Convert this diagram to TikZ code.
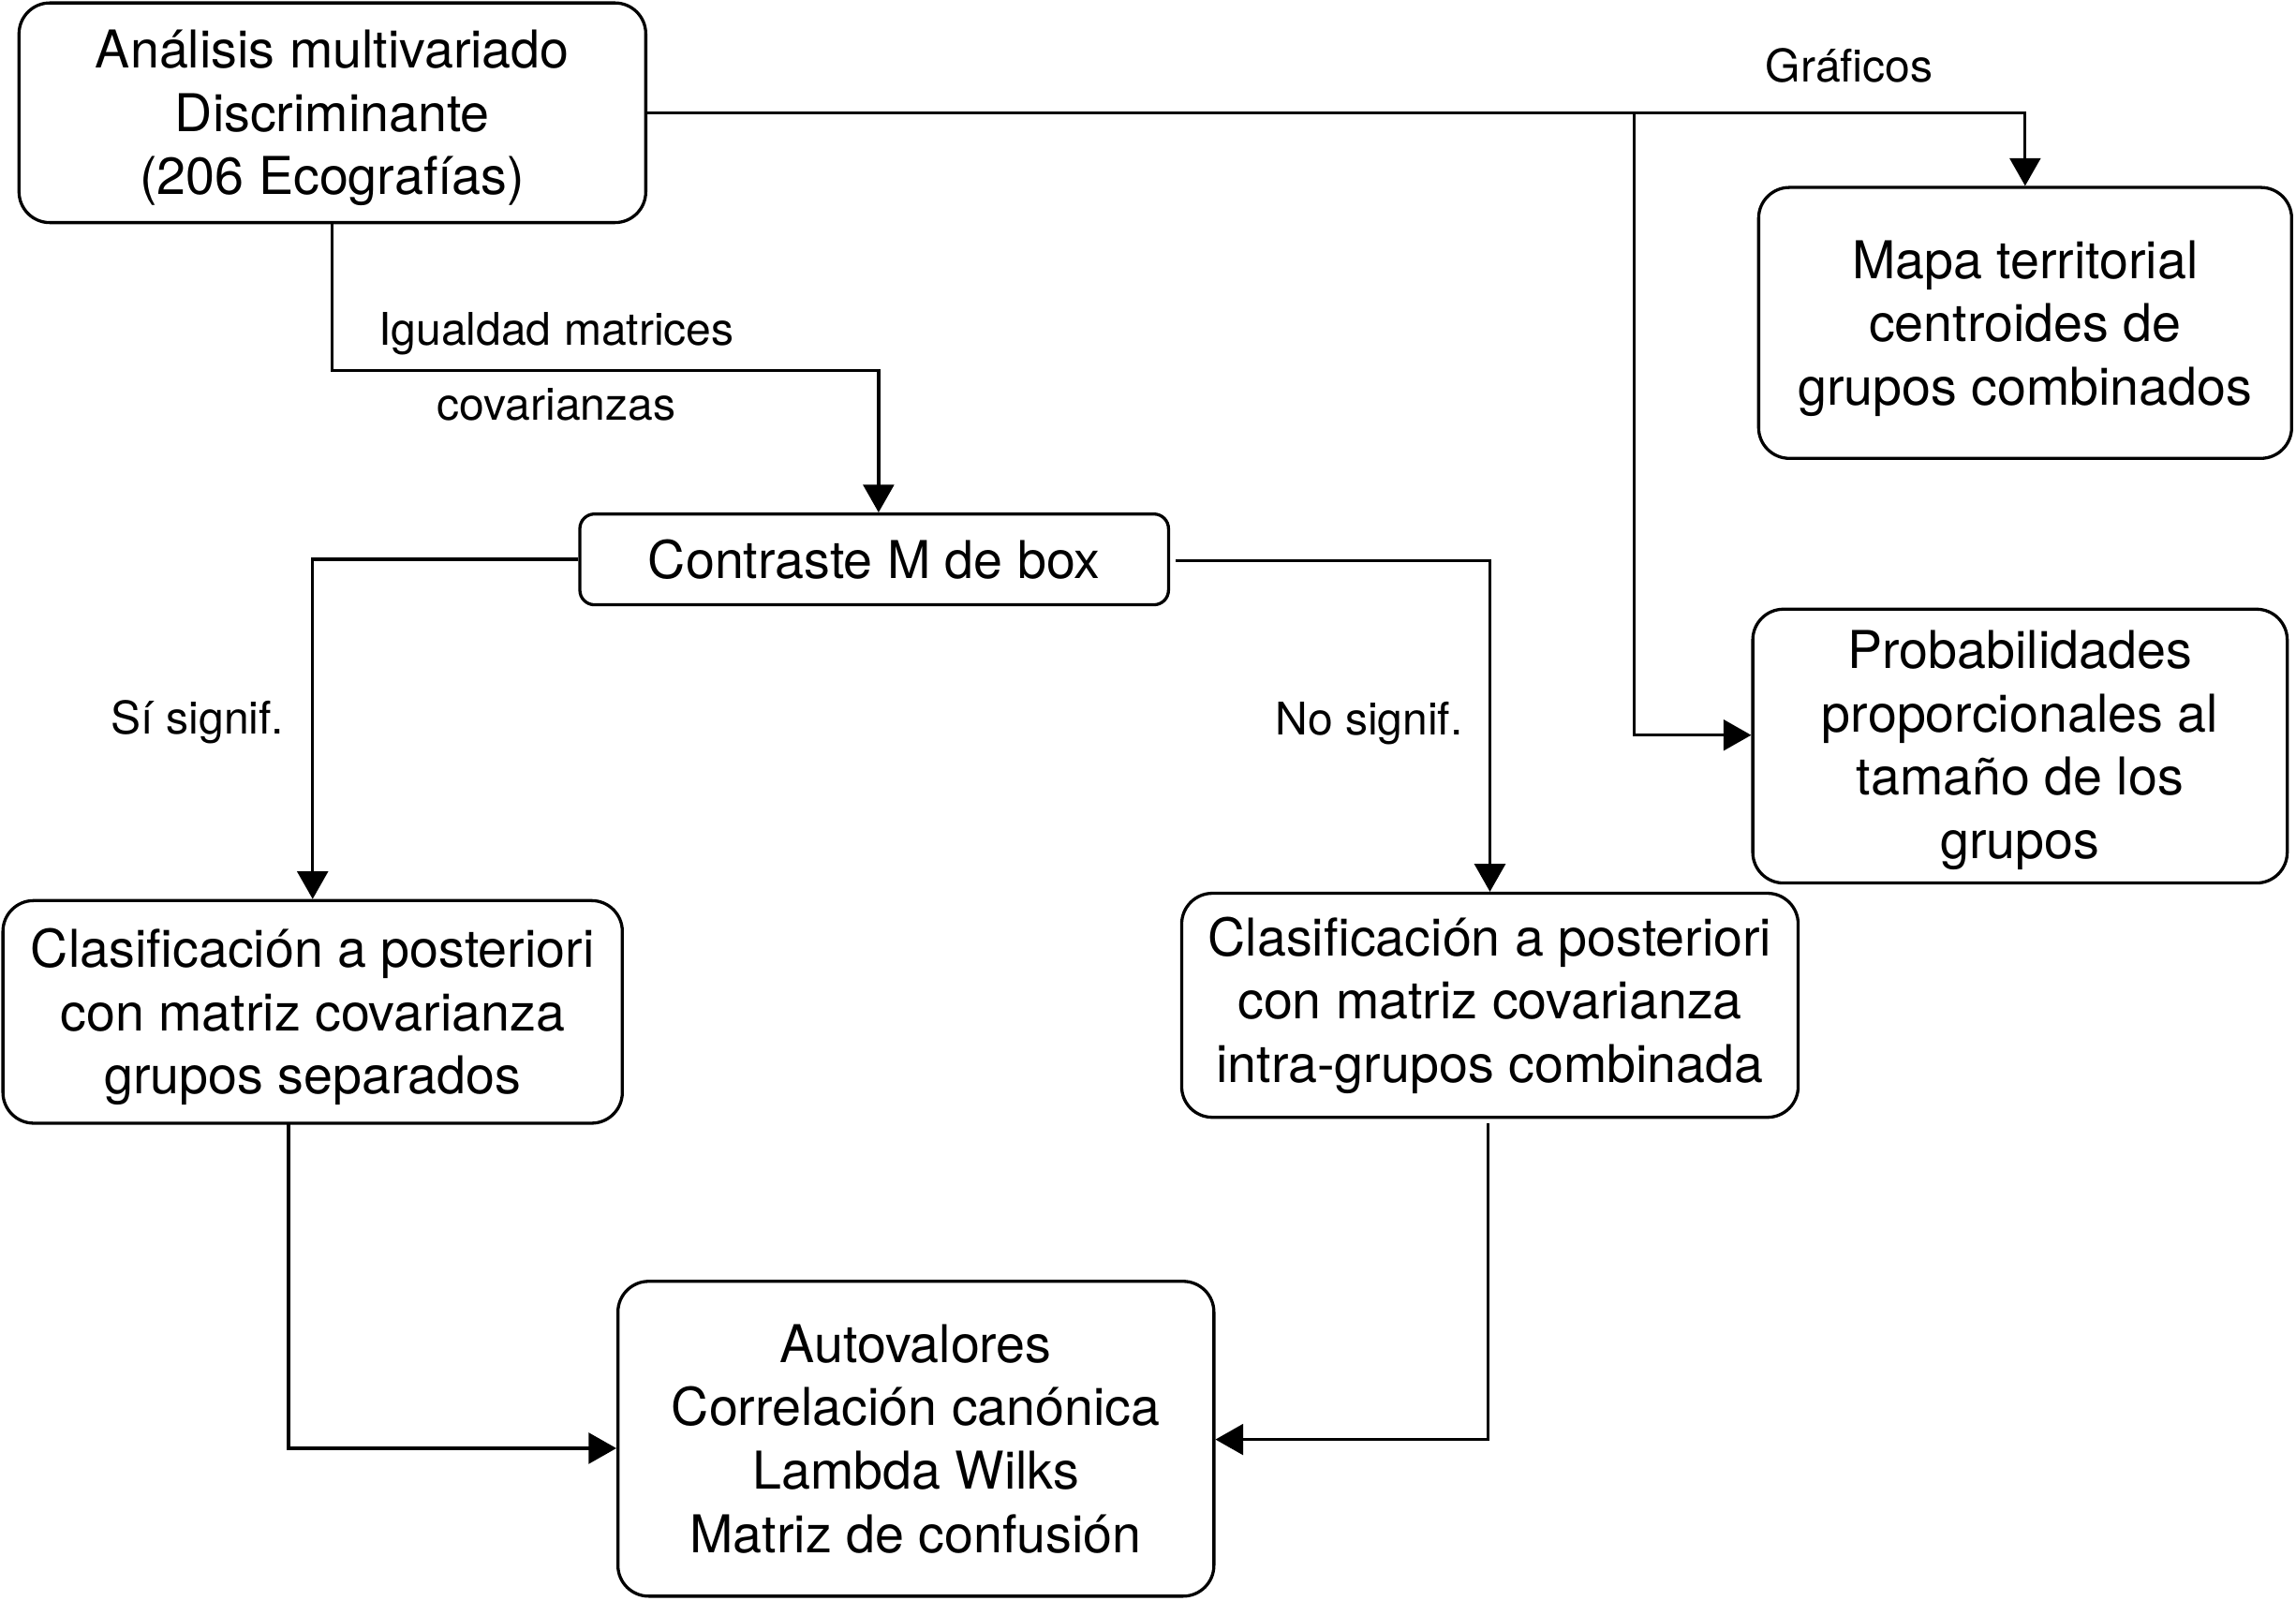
\documentclass[tikz,border=0pt]{standalone}
\usepackage{fontspec}
\setmainfont{TeX Gyre Heros}
\usetikzlibrary{arrows.meta}
\begin{document}
\begin{tikzpicture}[x=0.02cm,y=-0.02cm,
  every path/.style={line width=1.2pt},
  box/.style={draw,line width=1.2pt,rounded corners=0.42cm,align=center,inner sep=0pt,
    font=\fontsize{20.25}{24.6}\selectfont},
  lbl/.style={font=\fontsize{17.5}{21}\selectfont,inner sep=0pt},
  arr/.style={-{Triangle[width=0.42cm,length=0.38cm]}}]
\useasboundingbox (0,0) rectangle (1568,1093);
\node[box,minimum width=428*0.02cm,minimum height=150*0.02cm] (A) at (227,77)
  {\rule{0pt}{19pt}Análisis multivariado\\Discriminante\\(206 Ecografías)};
\node[box,minimum width=364*0.02cm,minimum height=185*0.02cm] (M) at (1383,220.5)
  {\rule{0pt}{19pt}Mapa territorial\\centroides de\\grupos combinados};
\node[box,minimum width=365*0.02cm,minimum height=187*0.02cm] (P) at (1379.5,509.5)
  {\rule{0pt}{18pt}Probabilidades\\proporcionales al\\tamaño de los\\grupos};
\node[box,rounded corners=0.2cm,minimum width=402*0.02cm,minimum height=62*0.02cm] (C) at (597,382)
  {Contraste M de box};
\node[box,minimum width=423*0.02cm,minimum height=152*0.02cm] (L) at (213.5,691)
  {\rule{0pt}{19pt}Clasificación a posteriori\\con matriz covarianza\\grupos separados};
\node[box,minimum width=421*0.02cm,minimum height=153*0.02cm] (R) at (1017.5,686.5)
  {Clasificación a posteriori\\con matriz covarianza\\intra-grupos combinada};
\node[box,minimum width=407*0.02cm,minimum height=215*0.02cm] (V) at (625.5,982.5)
  {Autovalores\\Correlación canónica\\Lambda Wilks\\Matriz de confusión};

\node[lbl] (g) at (1263,45) {Gráficos};
\node[lbl] (i1) at (380,228) {Igualdad matrices};
\node[lbl] (i2) at (380,276) {covarianzas};
\node[lbl] (si) at (135,493) {Sí signif.};
\node[lbl] (no) at (935,494) {No signif.};

\coordinate (br) at (1116,77);
\coordinate (py) at (0,502);
\coordinate (ay) at (0,253);
\coordinate (cx) at (600,0);
\coordinate (ls) at (197,767);
\coordinate (ly) at (0,989);
\coordinate (rs) at (1016,767);
\coordinate (ry) at (0,983);
\coordinate (ce) at (803,383);

\draw[arr] (A.east) -| (M.north);
\draw[arr] (br) |- (P.west |- py);
\draw[arr] (A.south) |- (cx |- ay) -- (cx |- C.north);
\draw[arr] (C.west) -| (L.north);
\draw[arr] (ce) -| (R.north);
\draw[arr] (ls) |- (V.west |- ly);
\draw[arr] (rs) |- (V.east |- ry);
\end{tikzpicture}
\end{document}
